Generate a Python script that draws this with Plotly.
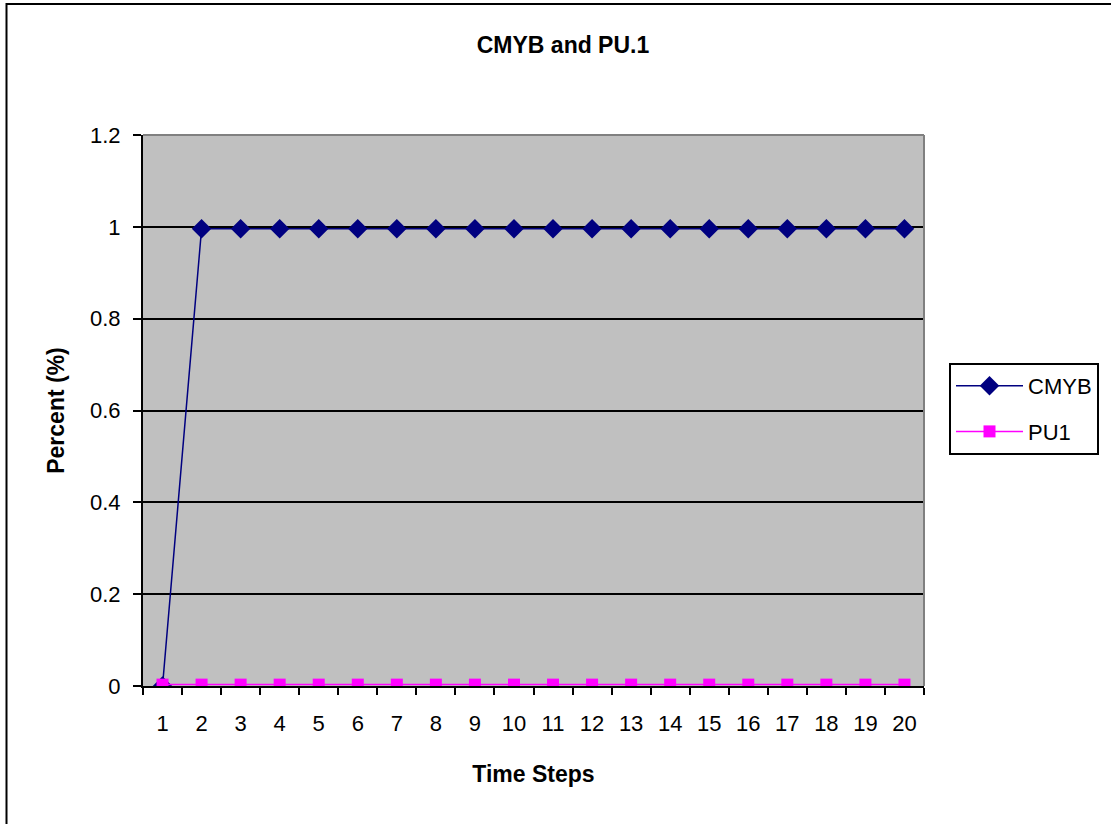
import plotly.graph_objects as go

time_steps = [str(i) for i in range(1, 21)]
cmyb = [0] + [0.996] * 19
pu1 = [0.003] * 20
y_ticks = [0, 0.2, 0.4, 0.6, 0.8, 1, 1.2]

W, H = 1111, 824
L, R, T, B = 143, 187, 135, 138
pw, ph = W - L - R, H - T - B

def px_x(p):
    return (p - L) / pw

def px_y(p):
    return (H - B - p) / ph

font = "Liberation Sans, Arial, sans-serif"

fig = go.Figure()
fig.add_trace(go.Scatter(
    x=time_steps, y=cmyb, name="CMYB", mode="lines+markers",
    line=dict(color="#000080", width=1.5),
    marker=dict(symbol="diamond", size=15, color="#000080"),
    legendgroup="a",
))
fig.add_trace(go.Scatter(
    x=time_steps, y=pu1, name="PU1", mode="lines+markers",
    line=dict(color="#FF00FF", width=1.5),
    marker=dict(symbol="square", size=12, color="#FF00FF"),
    legendgroup="b",
))

fig.update_layout(
    width=W, height=H,
    margin=dict(l=L, r=R, t=T, b=B, autoexpand=False),
    paper_bgcolor="white",
    plot_bgcolor="#C0C0C0",
    font=dict(family=font, size=22, color="black"),
    title=dict(text="<b>CMYB and PU.1</b>", x=563 / W, xanchor="center",
               y=1 - 45 / H, yanchor="middle", font=dict(size=23)),
    showlegend=True,
    legend=dict(x=px_x(949), y=px_y(363), xanchor="left", yanchor="top",
                bordercolor="black", borderwidth=2, bgcolor="white",
                tracegroupgap=14, font=dict(size=22), itemwidth=67),
    xaxis=dict(
        type="category", tickson="boundaries", ticks="outside", ticklen=7,
        tickcolor="black", tickwidth=2, showline=True, linecolor="black",
        linewidth=2, showgrid=False, ticklabelstandoff=17,
        tickfont=dict(size=22),
        title=dict(text="<b>Time Steps</b>", standoff=30, font=dict(size=23)),
        range=[-0.5, 19.5],
    ),
    yaxis=dict(
        range=[0, 1.2], tickvals=y_ticks, ticks="outside", ticklen=8,
        tickcolor="black", tickwidth=2, showline=True, linecolor="black",
        linewidth=2, showgrid=True, gridcolor="black", gridwidth=1.5,
        zeroline=False, ticklabelstandoff=8, tickfont=dict(size=22),
        title=dict(text="<b>Percent (%)</b>", standoff=19, font=dict(size=23)),
    ),
    shapes=[
        dict(type="line", xref="paper", yref="paper", x0=0, x1=1, y0=1, y1=1,
             line=dict(color="#808080", width=2), layer="above"),
        dict(type="line", xref="paper", yref="paper", x0=1, x1=1, y0=0, y1=1,
             line=dict(color="#808080", width=2), layer="above"),
        dict(type="rect", xref="paper", yref="paper",
             x0=px_x(6.5), x1=px_x(1200), y0=px_y(900), y1=px_y(4),
             line=dict(color="black", width=2), layer="below"),
    ],
)

fig.write_html("out.html")
